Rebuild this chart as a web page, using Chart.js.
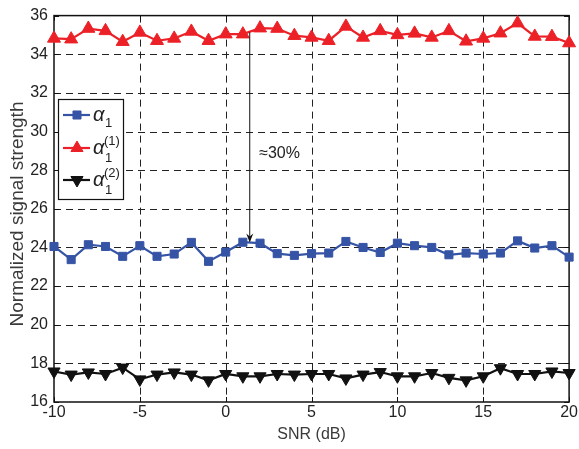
<!DOCTYPE html>
<html><head><meta charset="utf-8">
<script src="https://cdn.jsdelivr.net/npm/chart.js@4/dist/chart.umd.min.js"></script>
<style>html,body{margin:0;padding:0;background:#fff}#wrap{width:579px;height:449px}</style>
</head><body><div id="wrap"><canvas id="c" width="579" height="449"></canvas></div>
<script>
// ---- data ----
const snr = [-10,-9,-8,-7,-6,-5,-4,-3,-2,-1,0,1,2,3,4,5,6,7,8,9,10,11,12,13,14,15,16,17,18,19,20];
const alpha1 = [24.05,23.37,24.14,24.05,23.54,24.09,23.54,23.66,24.26,23.28,23.76,24.27,24.22,23.68,23.59,
  23.68,23.71,24.31,24.0,23.74,24.22,24.09,24.0,23.62,23.71,23.66,23.71,24.34,23.97,24.09,23.50];
const alpha1_1 = [34.82,34.78,35.33,35.21,34.65,35.13,34.70,34.82,35.18,34.70,35.04,35.04,35.35,35.33,34.96,
  34.87,34.70,35.44,34.87,35.21,35.0,35.08,34.87,35.21,34.67,34.82,35.09,35.61,34.92,34.91,34.58];
const alpha1_2 = [17.58,17.42,17.53,17.45,17.78,17.17,17.42,17.53,17.42,17.12,17.45,17.33,17.33,17.45,17.42,
  17.45,17.45,17.22,17.42,17.55,17.33,17.33,17.5,17.25,17.12,17.33,17.75,17.45,17.45,17.58,17.5];
const xTicks = [-10,-5,0,5,10,15,20];
const yTicks = [16,18,20,22,24,26,28,30,32,34,36];
const xTitle = 'SNR (dB)';
const yTitle = 'Normalized signal strength';
const annotText = '\u224830%';
const arrowX = 1.4, arrowFrom = 35.13, arrowTo = 24.26;
const annotX = 1.95, annotY = 28.85;

const FONT = "'Liberation Sans', Arial, sans-serif";
const RED = '#ec2127', BLUE = '#3654a5', BLACK = '#111111';

const pts = arr => snr.map((x,i)=>({x:x, y:arr[i]}));

const framePlugin = {
  id:'frame',
  beforeDatasetsDraw(chart){
    const {ctx, chartArea:a, scales:{x,y}} = chart;
    ctx.save();
    ctx.strokeStyle = '#222'; ctx.lineWidth = 1;
    ctx.setLineDash([7,5]);
    xTicks.forEach(v=>{ if(v===xTicks[0]||v===xTicks[xTicks.length-1]) return;
      const px = Math.round(x.getPixelForValue(v))+0.5;
      ctx.beginPath(); ctx.moveTo(px,a.top); ctx.lineTo(px,a.bottom); ctx.stroke(); });
    yTicks.forEach(v=>{ if(v===yTicks[0]||v===yTicks[yTicks.length-1]) return;
      const py = Math.round(y.getPixelForValue(v))+0.5;
      ctx.beginPath(); ctx.moveTo(a.left,py); ctx.lineTo(a.right,py); ctx.stroke(); });
    ctx.setLineDash([]);
    ctx.strokeStyle = '#111'; ctx.lineWidth = 1.5;
    ctx.strokeRect(a.left, a.top, a.right-a.left, a.bottom-a.top);
    ctx.lineWidth = 1;
    const tl = 5;
    xTicks.forEach(v=>{ const px = Math.round(x.getPixelForValue(v))+0.5;
      ctx.beginPath(); ctx.moveTo(px,a.bottom); ctx.lineTo(px,a.bottom-tl);
      ctx.moveTo(px,a.top); ctx.lineTo(px,a.top+tl); ctx.stroke(); });
    yTicks.forEach(v=>{ const py = Math.round(y.getPixelForValue(v))+0.5;
      ctx.beginPath(); ctx.moveTo(a.left,py); ctx.lineTo(a.left+tl,py);
      ctx.moveTo(a.right,py); ctx.lineTo(a.right-tl,py); ctx.stroke(); });
    ctx.restore();
  },
  afterDraw(chart){
    const {ctx, chartArea:a, scales:{x,y}} = chart;
    ctx.save();
    // arrow annotation
    const ax = x.getPixelForValue(arrowX);
    const y1 = y.getPixelForValue(arrowFrom), y2 = y.getPixelForValue(arrowTo);
    ctx.strokeStyle = '#111'; ctx.fillStyle = '#111'; ctx.lineWidth = 1;
    ctx.beginPath(); ctx.moveTo(ax,y1); ctx.lineTo(ax,y2-2); ctx.stroke();
    ctx.beginPath(); ctx.moveTo(ax,y2); ctx.lineTo(ax-3.5,y2-9); ctx.lineTo(ax,y2-6); ctx.lineTo(ax+3.5,y2-9); ctx.closePath(); ctx.fill();
    ctx.font = '16px '+FONT; ctx.fillStyle = '#222'; ctx.textAlign='left'; ctx.textBaseline='middle';
    ctx.fillText(annotText, x.getPixelForValue(annotX), y.getPixelForValue(annotY));
    // axis titles
    ctx.fillStyle = '#3a3a3a';
    ctx.font = '16px '+FONT; ctx.textAlign='center'; ctx.textBaseline='middle';
    ctx.fillText(xTitle, (a.left+a.right)/2, 435);
    ctx.save(); ctx.translate(18, 214); ctx.rotate(-Math.PI/2);
    ctx.font = '19px '+FONT; ctx.fillText(yTitle, 0, 0); ctx.restore();
    // legend
    const lx=58, ly=99, lw=65, lh=100;
    ctx.fillStyle='#fff'; ctx.fillRect(lx,ly,lw,lh);
    ctx.strokeStyle='#111'; ctx.lineWidth=1.2; ctx.strokeRect(lx+0.5,ly+0.5,lw,lh);
    const items = [
      {c:BLUE, style:'rect', r:5.7, rot:0, y:115, sup:null},
      {c:RED, style:'triangle', r:7, rot:0, y:148, sup:'(1)'},
      {c:BLACK, style:'triangle', r:7, rot:180, y:180, sup:'(2)'}
    ];
    items.forEach(it=>{
      ctx.strokeStyle=it.c; ctx.lineWidth=2.2;
      ctx.beginPath(); ctx.moveTo(63,it.y); ctx.lineTo(90,it.y); ctx.stroke();
      ctx.fillStyle=it.c; ctx.strokeStyle=it.c; ctx.lineWidth=1;
      Chart.helpers.drawPoint(ctx,{pointStyle:it.style, radius:it.r, rotation:it.rot, borderWidth:1}, 77, it.y);
      ctx.fillStyle='#222'; ctx.textAlign='left'; ctx.textBaseline='alphabetic';
      ctx.font = 'italic 20px '+FONT;
      ctx.fillText('\u03B1', 93, it.y+6);
      ctx.font = '13px '+FONT;
      ctx.fillText('1', 105, it.y+ (it.sup?14:12));
      if(it.sup) ctx.fillText(it.sup, 104, it.y-3);
    });
    ctx.restore();
  }
};

const ds = (label, arr, color, style, r, rot) => ({
  label, data: pts(arr), borderColor: color, backgroundColor: color,
  borderWidth: 2.2, pointStyle: style, pointRadius: r, pointHoverRadius: r,
  pointRotation: rot, pointBorderWidth: 1, pointBackgroundColor: color, pointBorderColor: color,
  tension: 0, clip: false, fill: false
});

new Chart(document.getElementById('c'), {
  type: 'line',
  data: { datasets: [
    ds('\u03B1\u2081', alpha1, BLUE, 'rect', 5.7, 0),
    ds('\u03B1\u2081\u207D\u00B9\u207E', alpha1_1, RED, 'triangle', 7.5, 0),
    ds('\u03B1\u2081\u207D\u00B2\u207E', alpha1_2, BLACK, 'triangle', 7, 180)
  ]},
  options: {
    responsive: false, animation: false, devicePixelRatio: 1,
    layout: { padding: { top: 13, right: 7, left: 0, bottom: 0 } },
    plugins: { legend: { display: false }, tooltip: { enabled: false } },
    scales: {
      x: { type: 'linear', min: -10, max: 20,
        afterBuildTicks: s => { s.ticks = xTicks.map(v=>({value:v})); },
        afterFit: s => { s.height = 47; },
        grid: { display: false, drawTicks: false }, border: { display: false },
        ticks: { color: '#222', font: { family: FONT, size: 16 }, padding: 1, maxRotation: 0, autoSkip: false } },
      y: { min: 16, max: 36,
        afterBuildTicks: s => { s.ticks = yTicks.map(v=>({value:v})); },
        afterFit: s => { s.width = 54; },
        grid: { display: false, drawTicks: false }, border: { display: false },
        ticks: { color: '#222', font: { family: FONT, size: 16 }, padding: 6, autoSkip: false } }
    }
  },
  plugins: [framePlugin]
});
</script></body></html>
